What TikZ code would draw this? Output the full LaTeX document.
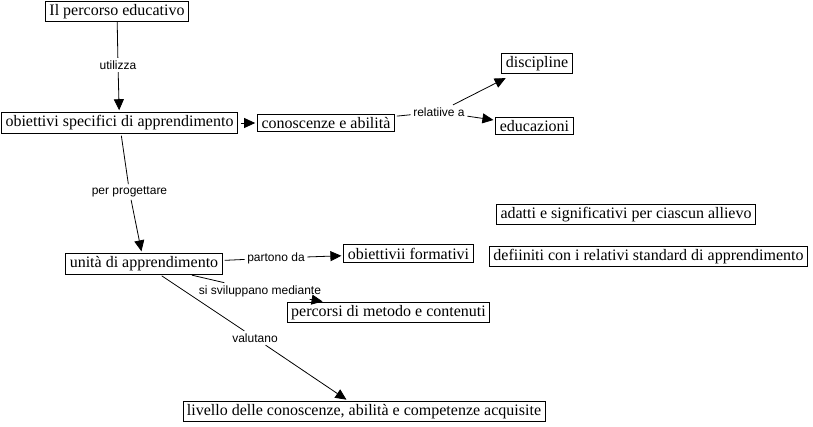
\documentclass[tikz,border=0pt]{standalone}
\usepackage{fontspec}
\setmainfont{Liberation Serif}
\newfontfamily\labfont{Liberation Sans}
\usetikzlibrary{arrows.meta,calc}
\begin{document}
\begin{tikzpicture}[x=1pt,y=-1pt,
  box/.style={draw,line width=0.9pt,font=\fontsize{16}{18}\selectfont,inner xsep=4pt,inner ysep=3pt},
  lbl/.style={font=\labfont\fontsize{12}{14}\selectfont,inner sep=2.5pt},
  con/.style={line width=0.8pt},
  arr/.style={con,-{Triangle[length=11pt,width=10pt]},shorten >=2pt}]
\fill[white] (0,0) rectangle (813,426);
\useasboundingbox (0,0) rectangle (813,426);

\node[box] (ip) at (117,11.5) {Il percorso educativo};
\node[box] (osa) at (119.5,123) {obiettivi specifici di apprendimento};
\node[box] (ca) at (326,123) {conoscenze e abilità};
\node[box] (disc) at (537,63.5) {discipline};
\node[box] (edu) at (534.5,126) {educazioni};
\node[box] (ad) at (626,214.5) {adatti e significativi per ciascun allievo};
\node[box] (def) at (648.5,256.5) {defiiniti con i relativi standard di apprendimento};
\node[box] (uda) at (144,264) {unità di apprendimento};
\node[box] (of) at (408.5,253.5) {obiettivii formativi};
\node[box] (pmc) at (388.5,312.5) {percorsi di metodo e contenuti};
\node[box] (liv) at (364,411.5) {livello delle conoscenze, abilità e competenze acquisite};

\node[lbl] (ut) at (118,65) {utilizza};
\node[lbl] (rel) at (439,112) {relatiive a};
\node[lbl] (pp) at (129.5,192) {per progettare};
\node[lbl] (pd) at (276,258) {partono da};
\node[lbl] (ssm) at (260,291) {si sviluppano mediante};
\node[lbl] (val) at (255,338) {valutano};

\draw[con] (ip) -- (ut);
\draw[arr] (ut) -- (osa);
\draw[arr,shorten <=3pt] (osa) -- (ca);
\draw[con,shorten <=2pt] (ca) -- (rel);
\draw[arr] (rel) -- ($(disc.south west)+(6,3)$);
\draw[arr] (rel) -- (edu);
\draw[con,shorten <=2pt] (osa) -- (pp);
\draw[arr] (pp) -- (uda);
\draw[con,shorten <=2pt] (uda) -- (pd);
\draw[arr] (pd) -- (of);
\draw[con,shorten <=2pt] (uda) -- (ssm);
\draw[arr] (ssm) -- (pmc);
\draw[con,shorten <=2pt] (uda) -- (val);
\draw[arr] (val) -- (liv);
\end{tikzpicture}
\end{document}
